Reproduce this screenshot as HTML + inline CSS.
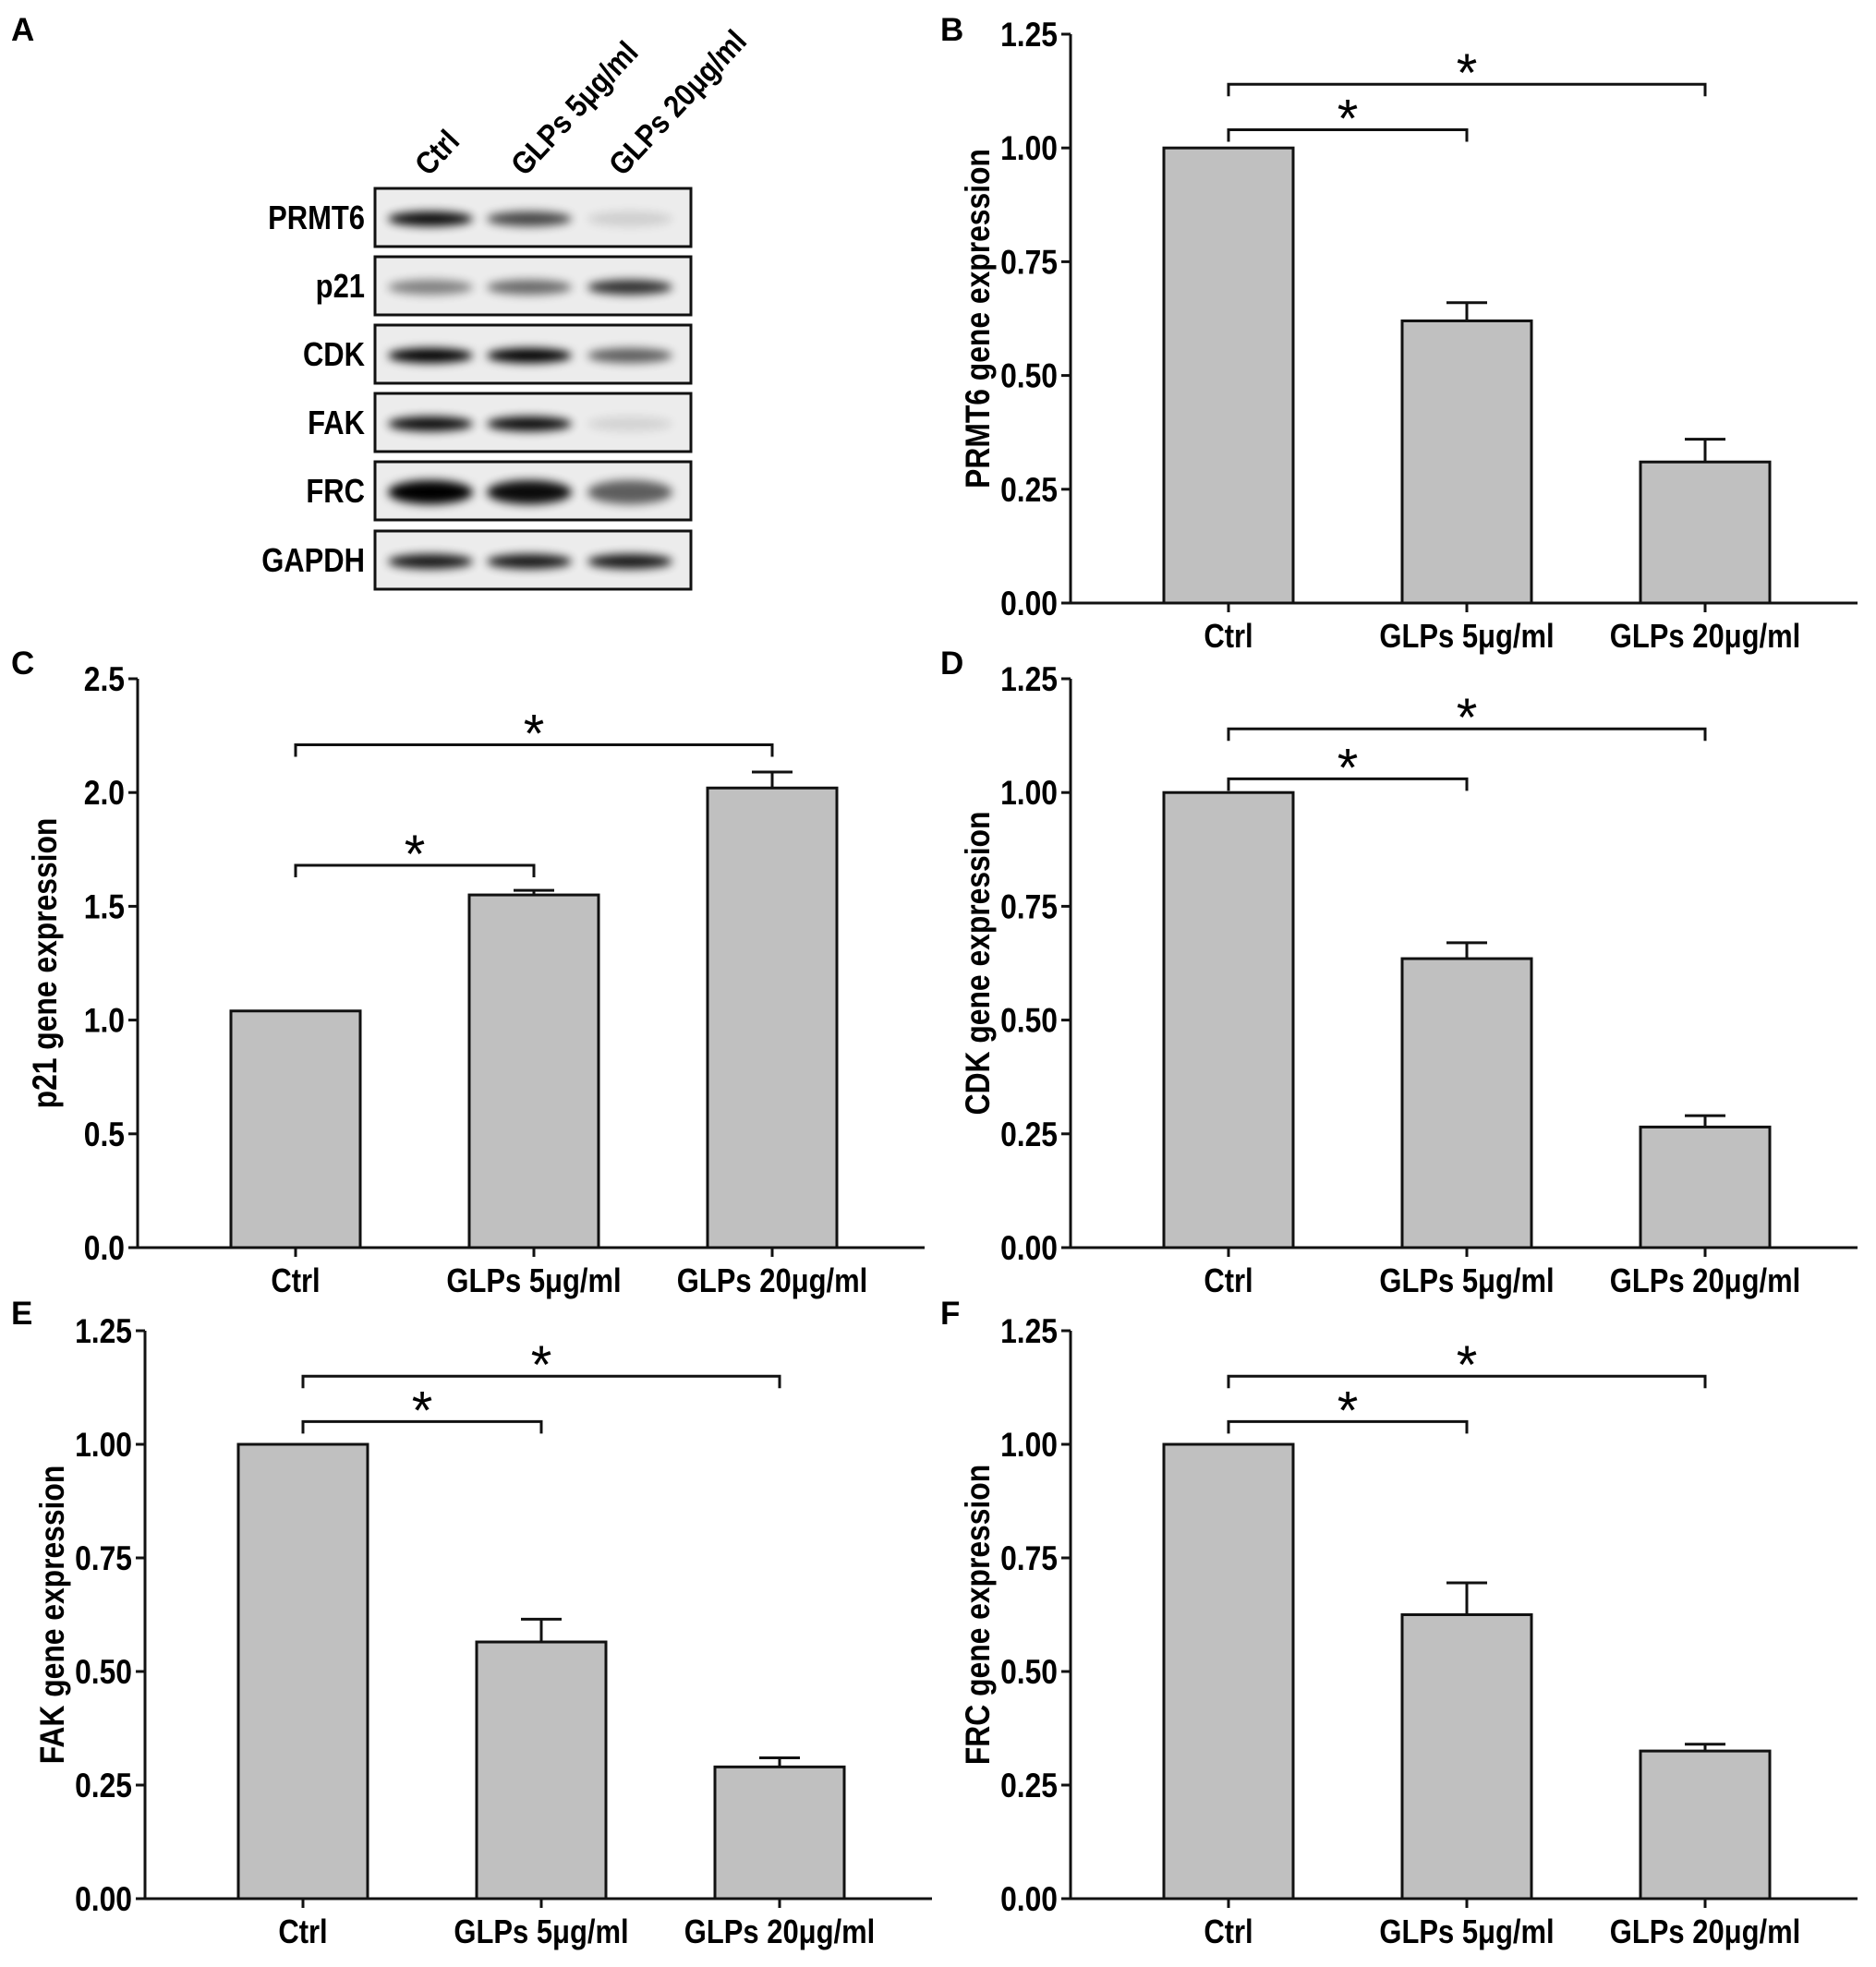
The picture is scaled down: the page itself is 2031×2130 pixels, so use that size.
<!DOCTYPE html>
<html><head><meta charset="utf-8">
<style>
html,body{margin:0;padding:0;background:#fff;}
svg{display:block;font-family:"Liberation Sans",Arial,sans-serif;font-weight:bold;}
</style></head>
<body>
<svg id="fig" width="2031" height="2130" viewBox="0 0 2031 2130" xmlns="http://www.w3.org/2000/svg">
<defs>
<filter id="blur" x="-20%" y="-100%" width="140%" height="300%"><feGaussianBlur stdDeviation="5"/></filter>
</defs>
<g id="blot"></g>
<g id="charts"></g>
</svg>
<script>
const categories = ["Ctrl", "GLPs 5μg/ml", "GLPs 20μg/ml"];
const prmt6Values = [1.0, 0.62, 0.31];
const prmt6Errors = [0, 0.04, 0.05];
const p21Values = [1.04, 1.55, 2.02];
const p21Errors = [0, 0.02, 0.07];
const cdkValues = [1.0, 0.635, 0.265];
const cdkErrors = [0, 0.035, 0.025];
const fakValues = [1.0, 0.565, 0.29];
const fakErrors = [0, 0.05, 0.02];
const frcValues = [1.0, 0.625, 0.325];
const frcErrors = [0, 0.07, 0.015];
const ticks125 = ["0.00", "0.25", "0.50", "0.75", "1.00", "1.25"];
const ticks25 = ["0.0", "0.5", "1.0", "1.5", "2.0", "2.5"];
const prmt6Brackets = [1.04, 1.14];
const p21Brackets = [1.68, 2.21];
const cdkBrackets = [1.03, 1.14];
const fakBrackets = [1.05, 1.15];
const frcBrackets = [1.05, 1.15];
const blotProteins = ["PRMT6", "p21", "CDK", "FAK", "FRC", "GAPDH"];
const blotIntensity = [[0.95, 0.7, 0.12], [0.45, 0.55, 0.8], [1.0, 1.0, 0.6], [0.95, 0.95, 0.1], [1.0, 0.95, 0.6], [0.9, 0.9, 0.9]];

const NS = "http://www.w3.org/2000/svg";
function mk(tag, attrs, parent, txt) {
  const e = document.createElementNS(NS, tag);
  for (const k in attrs) e.setAttribute(k, attrs[k]);
  if (txt !== undefined) e.textContent = txt;
  parent.appendChild(e);
  return e;
}
const charts = document.getElementById("charts");
const fig = document.getElementById("fig");

function letter(t, x, y) {
  const e = mk("text", {x: x, y: y, "font-size": 35}, fig, t);
  
  
}
letter("A", 12, 44); letter("B", 1018, 44);
letter("C", 12, 730); letter("D", 1018, 730);
letter("E", 12, 1434); letter("F", 1018, 1434);

function ctext(parent, x, y, size, anchor, str, rot) {
  const sx = 0.86;
  let tr = rot ? `rotate(-90 ${x} ${y}) ` : "";
  tr += `translate(${x} ${y}) scale(${sx} 1)`;
  return mk("text", {x: 0, y: 0, "font-size": size, "text-anchor": anchor, transform: tr}, parent, str);
}

function drawChart(id, x0, yTop, yBot, maxV, tickLabels, values, errors, brackets, title) {
  const g = mk("g", {}, charts);
  
  
  const x1 = x0 + 852;
  const y = v => yBot - (v / maxV) * (yBot - yTop);
  const centers = [171, 429, 687].map(c => x0 + c);
  const bw = 140;
  const ya = mk("line", {x1: x0, y1: yTop, x2: x0, y2: yBot, stroke: "#111", "stroke-width": 3}, g);
  
  
  tickLabels.forEach((t, i) => {
    const v = maxV * i / (tickLabels.length - 1);
    mk("line", {x1: x0 - 10, y1: y(v), x2: x0, y2: y(v), stroke: "#111", "stroke-width": 3}, g);
    const tl = ctext(g, x0 - 14, y(v) + 13, 37, "end", t);
    
    
  });
  values.forEach((v, i) => {
    const r = mk("rect", {x: centers[i] - bw / 2, y: y(v), width: bw, height: yBot - y(v), fill: "#c0c0c0", stroke: "#111", "stroke-width": 3}, g);
    
    
    if (errors[i] > 0) {
      const eb = mk("path", {d: `M${centers[i]} ${y(v)} V${y(v + errors[i])} M${centers[i] - 22} ${y(v + errors[i])} H${centers[i] + 22}`, stroke: "#111", "stroke-width": 3, fill: "none"}, g);
      
      
    }
  });
  const xa = mk("line", {x1: x0, y1: yBot, x2: x1, y2: yBot, stroke: "#111", "stroke-width": 3}, g);
  
  
  categories.forEach((c, i) => {
    mk("line", {x1: centers[i], y1: yBot, x2: centers[i], y2: yBot + 10, stroke: "#111", "stroke-width": 3}, g);
    const cl = ctext(g, centers[i], yBot + 48, 36, "middle", c);
    
    
  });
  brackets.forEach((b, i) => {
    const xe = centers[i + 1];
    const by = y(b);
    const br = mk("path", {d: `M${centers[0]} ${by + 13} V${by} H${xe} V${by + 13}`, stroke: "#111", "stroke-width": 3, fill: "none"}, g);
    
    
    const st = mk("text", {x: (centers[0] + xe) / 2, y: by + 8, "font-size": 58, "font-weight": "normal", "text-anchor": "middle"}, g, "*");
    
    
  });
  const cy = (yTop + yBot) / 2;
  const at = ctext(g, x0 - 88, cy, 37, "middle", title, true);
  
  
}

drawChart("prmt6", 1159, 37, 653, 1.25, ticks125, prmt6Values, prmt6Errors, prmt6Brackets, "PRMT6 gene expression");
drawChart("p21", 149, 735, 1351, 2.5, ticks25, p21Values, p21Errors, p21Brackets, "p21 gene expression");
drawChart("cdk", 1159, 735, 1351, 1.25, ticks125, cdkValues, cdkErrors, cdkBrackets, "CDK gene expression");
drawChart("fak", 157, 1441, 2056, 1.25, ticks125, fakValues, fakErrors, fakBrackets, "FAK gene expression");
drawChart("frc", 1159, 1441, 2056, 1.25, ticks125, frcValues, frcErrors, frcBrackets, "FRC gene expression");

const blot = document.getElementById("blot");
const rowTops = [204, 278, 352, 426, 500, 575];
const laneX = [466, 573, 682];
rowTops.forEach((top, r) => {
  const rg = mk("g", {}, blot);
  
  
  mk("rect", {x: 406, y: top, width: 342, height: 63, fill: "#ececec"}, rg);
  blotIntensity[r].forEach((a, l) => {
    mk("ellipse", {cx: laneX[l], cy: top + 33, rx: 46, ry: r === 4 ? 13 : 8, fill: "#000", opacity: a, filter: "url(#blur)"}, rg);
  });
  mk("rect", {x: 406, y: top, width: 342, height: 63, fill: "none", stroke: "#111", "stroke-width": 3}, rg);
  const lb = ctext(rg, 395, top + 44, 36, "end", blotProteins[r]);
  
  
});
const laneStart = [[464, 192], [568, 192], [674, 192]];
categories.forEach((c, i) => {
  const t = mk("text", {x: 0, y: 0, "font-size": 34, transform: `translate(${laneStart[i][0]} ${laneStart[i][1]}) rotate(-47) scale(0.88 1)`}, blot, c);
  
  
});
</script>
</body></html>
